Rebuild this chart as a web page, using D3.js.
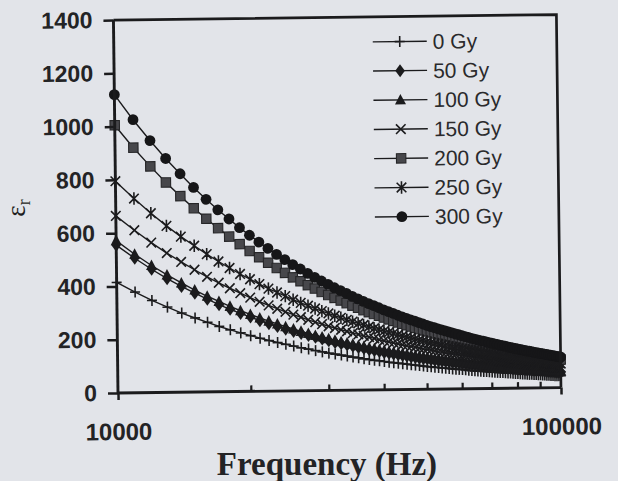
<!DOCTYPE html>
<html>
<head>
<meta charset="utf-8">
<script src="https://cdn.jsdelivr.net/npm/d3@7"></script>
<style>
  html, body { margin: 0; padding: 0; background: #e2e4e9; }
  svg { display: block; }
</style>
</head>
<body>
<svg id="chart" width="618" height="481"></svg>
<script>
// ---- data ----
const freq = [
  10000,11000,12000,13000,14000,15000,16000,17000,18000,19000,
  20000,21000,22000,23000,24000,25000,26000,27000,28000,29000,
  30000,31000,32000,33000,34000,35000,36000,37000,38000,39000,
  40000,41000,42000,43000,44000,45000,46000,47000,48000,49000,
  50000,51000,52000,53000,54000,55000,56000,57000,58000,59000,
  60000,61000,62000,63000,64000,65000,66000,67000,68000,69000,
  70000,71000,72000,73000,74000,75000,76000,77000,78000,79000,
  80000,81000,82000,83000,84000,85000,86000,87000,88000,89000,
  90000,91000,92000,93000,94000,95000,96000,97000,98000,99000,
  100000];

const seriesNames = ["0 Gy","50 Gy","100 Gy","150 Gy","200 Gy","250 Gy","300 Gy"];

const gy0 = [
  415,378,346,320,297,278,261,245,232,220,
  209,199,190,182,175,168,161,156,150,145,
  140,136,132,128,124,121,117,114,111,109,
  106,103,101,99,97,95,93,91,89,87,
  85,84,82,81,79,78,77,75,74,73,
  72,71,69,68,67,66,65,64,64,63,
  62,61,60,59,59,58,57,57,56,55,
  55,54,53,53,52,51,51,50,50,49,
  49,48,48,47,47,46,46,45,45,45,
  44];
const gy50 = [
  555,505,463,427,397,371,348,327,309,293,
  279,265,253,242,232,223,215,207,200,193,
  186,180,175,170,165,160,156,151,148,144,
  140,137,134,131,128,125,122,120,117,115,
  113,110,108,106,104,103,101,99,97,96,
  94,93,91,90,88,87,86,85,83,82,
  81,80,79,78,77,76,75,74,73,72,
  71,70,69,69,68,67,66,66,65,64,
  63,63,62,61,61,60,60,59,58,58,
  57];
const gy100 = [
  572,520,477,441,410,383,359,339,320,303,
  289,275,263,252,241,232,223,215,207,201,
  194,188,182,177,172,167,163,158,154,150,
  147,143,140,137,134,131,128,126,123,121,
  118,116,114,112,110,108,106,104,103,101,
  100,98,96,95,94,92,91,90,88,87,
  86,85,84,83,82,81,80,79,78,77,
  76,75,74,73,73,72,71,70,69,69,
  68,67,67,66,65,65,64,63,63,62,
  62];
const gy150 = [
  665,610,563,523,489,459,432,409,388,369,
  352,336,322,309,297,286,276,266,257,249,
  241,234,227,221,214,209,203,198,193,188,
  184,180,176,172,168,164,161,158,154,151,
  149,146,143,140,138,136,133,131,129,127,
  125,123,121,119,117,115,114,112,110,109,
  107,106,104,103,101,100,99,98,96,95,
  94,93,92,91,89,88,87,86,85,84,
  83,83,82,81,80,79,78,77,77,76,
  75];
const gy200 = [
  1005,920,849,788,736,690,650,614,582,553,
  527,503,482,462,443,426,411,396,383,370,
  358,347,337,327,317,309,300,292,285,278,
  271,264,258,252,247,241,236,231,226,221,
  217,213,209,205,201,197,194,190,187,183,
  180,177,174,172,169,166,163,161,158,156,
  154,151,149,147,145,143,141,139,137,135,
  134,132,130,128,127,125,124,122,120,119,
  118,116,115,113,112,111,110,108,107,106,
  105];
const gy250 = [
  795,729,673,625,584,549,517,489,464,441,
  421,402,385,370,356,342,330,319,308,298,
  289,280,272,264,257,250,244,237,231,226,
  220,215,211,206,201,197,193,189,185,182,
  178,175,172,169,166,163,160,157,155,152,
  150,147,145,143,141,139,137,134,133,131,
  129,127,125,124,122,120,119,117,116,114,
  113,112,110,109,108,106,105,104,103,102,
  101,99,98,97,96,95,94,93,92,91,
  90];
const gy300 = [
  1120,1025,946,878,820,768,723,683,648,615,
  586,560,536,513,493,474,457,440,425,411,
  398,385,374,363,352,342,333,324,316,308,
  300,293,286,279,273,267,261,256,250,245,
  240,235,231,226,222,218,214,210,206,203,
  199,196,193,189,186,183,180,178,175,172,
  170,167,165,162,160,158,155,153,151,149,
  147,145,143,141,139,138,136,134,132,131,
  129,128,126,125,123,122,120,119,117,116,
  115];

const yTicks = [0,200,400,600,800,1000,1200,1400];
const xTicks = [10000,100000];
const xMinorTicks = [20000,30000,40000,50000,60000,70000,80000,90000];
const markerTypes = ["plus","diamond","triangle","x","square","asterisk","circle"];
const allSeries = [gy0,gy50,gy100,gy150,gy200,gy250,gy300];

// ---- layout ----
const svg = d3.select("#chart");
svg.append("rect").attr("width",618).attr("height",481).attr("fill","#e2e4e9");

const pLeft = 118, pRight = 561, pTop = 20, pBottom = 393;
const ink = "#1b1b1d";

const x = d3.scaleLog().domain([10000,100000]).range([pLeft,pRight]);
const y = d3.scaleLinear().domain([0,1400]).range([pBottom,pTop]);

const g = svg.append("g").attr("transform",`rotate(-0.7,${pLeft},${pBottom})`);

function marker(sel, type) {
  switch (type) {
    case "plus":
      sel.append("path").attr("d","M-5,0H5M0,-5.5V5.5").attr("stroke",ink).attr("stroke-width",1.6).attr("fill","none"); break;
    case "diamond":
      sel.append("path").attr("d","M0,-6.5L4.8,0L0,6.5L-4.8,0Z").attr("fill",ink); break;
    case "triangle":
      sel.append("path").attr("d","M0,-6L5.5,4.5L-5.5,4.5Z").attr("fill",ink); break;
    case "x":
      sel.append("path").attr("d","M-4.8,-4.8L4.8,4.8M-4.8,4.8L4.8,-4.8").attr("stroke",ink).attr("stroke-width",1.6).attr("fill","none"); break;
    case "square":
      sel.append("rect").attr("x",-4.7).attr("y",-4.7).attr("width",9.4).attr("height",9.4).attr("fill","#47474b").attr("stroke","#262628").attr("stroke-width",1.1); break;
    case "asterisk":
      sel.append("path").attr("d","M-4.8,-4.8L4.8,4.8M-4.8,4.8L4.8,-4.8M0,-6.2V6.2").attr("stroke",ink).attr("stroke-width",1.6).attr("fill","none"); break;
    case "circle":
      sel.append("circle").attr("r",5.4).attr("fill","#161618"); break;
  }
}

// ---- series ----
const line = d3.line().x((d,i)=>x(freq[i])).y(d=>y(d));
allSeries.forEach((vals, si) => {
  const sg = g.append("g");
  sg.append("path").datum(vals).attr("d", line)
    .attr("fill","none").attr("stroke",ink).attr("stroke-width",1.4);
  vals.forEach((v,i) => {
    const m = sg.append("g").attr("transform",`translate(${x(freq[i])},${y(v)})`);
    marker(m, markerTypes[si]);
  });
});

// ---- frame & axes ----
g.append("path").attr("d",`M${pLeft},${pTop}H${pRight}V${pBottom}`)
  .attr("fill","none").attr("stroke",ink).attr("stroke-width",2.7);

const yAxis = d3.axisLeft(y).tickValues(yTicks).tickFormat(d3.format("d")).tickSize(10).tickPadding(11);
const ya = g.append("g").attr("transform",`translate(${pLeft},0)`).call(yAxis);
ya.select(".domain").attr("stroke",ink).attr("stroke-width",2.9).attr("d",`M0,${pBottom}V${pTop}`);
ya.selectAll(".tick line").attr("stroke",ink).attr("stroke-width",2.5);
ya.selectAll(".tick text").attr("fill","#232325")
  .style("font-family","'Liberation Sans', Arial, sans-serif").style("font-weight","bold").style("font-size","23px");

const xAxis = d3.axisBottom(x).tickValues(xTicks).tickFormat(d3.format("d")).tickSize(7).tickPadding(23);
const xa = g.append("g").attr("transform",`translate(0,${pBottom})`).call(xAxis);
xa.select(".domain").attr("stroke",ink).attr("stroke-width",2.9).attr("d",`M${pLeft},0H${pRight}`);
xa.selectAll(".tick line").attr("stroke",ink).attr("stroke-width",2.5);
xa.selectAll(".tick text").attr("fill","#232325")
  .style("font-family","'Liberation Sans', Arial, sans-serif").style("font-weight","bold").style("font-size","24px");

g.append("g").selectAll("line").data(xMinorTicks).join("line")
  .attr("x1",d=>x(d)).attr("x2",d=>x(d)).attr("y1",pBottom).attr("y2",pBottom-6)
  .attr("stroke",ink).attr("stroke-width",2.2);

// ---- legend ----
const lg = g.append("g").attr("transform","translate(404,45)");
seriesNames.forEach((name, i) => {
  const row = lg.append("g").attr("transform",`translate(0,${i*29.2})`);
  row.append("line").attr("x1",-27).attr("x2",27).attr("y1",0).attr("y2",0)
    .attr("stroke",ink).attr("stroke-width",1.4);
  marker(row.append("g"), markerTypes[i]);
  row.append("text").attr("x",33).attr("y",0).attr("dy","0.36em")
    .attr("fill","#2a2a2c")
    .style("font-family","'Liberation Sans', Arial, sans-serif").style("font-size","21px")
    .text(name);
});

// ---- axis titles ----
svg.append("text").attr("x",327).attr("y",475).attr("text-anchor","middle")
  .attr("fill","#232325")
  .style("font-family","'Liberation Serif', 'Times New Roman', serif").style("font-weight","bold").style("font-size","33px")
  .text("Frequency (Hz)");

const yt = svg.append("text").attr("transform","translate(25,208) rotate(-90)").attr("text-anchor","middle")
  .attr("fill","#1f1f21")
  .style("font-family","'Liberation Serif', 'Times New Roman', serif").style("font-size","27px");
yt.append("tspan").text("ε");
yt.append("tspan").attr("dy","5").style("font-size","18px").text("r");
</script>
</body>
</html>
